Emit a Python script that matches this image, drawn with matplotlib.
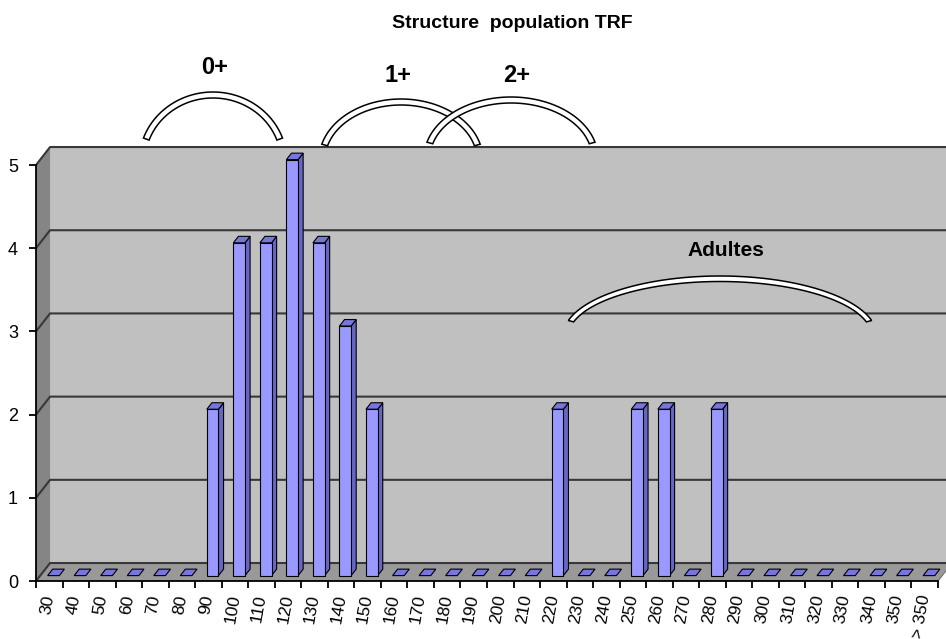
import numpy as np
import matplotlib.pyplot as plt
from matplotlib.patches import Polygon

plt.rcParams['font.family'] = ['Liberation Sans', 'DejaVu Sans']

# classes de taille (mm) et effectifs
categories = [str(v) for v in range(30, 360, 10)] + ['> 350']
counts = [0, 0, 0, 0, 0, 0, 2, 4, 4, 5, 4, 3, 2, 0, 0, 0, 0, 0, 0, 2,
          0, 0, 2, 2, 0, 2, 0, 0, 0, 0, 0, 0, 0, 0]
yticks = [0, 1, 2, 3, 4, 5]

title = 'Structure  population TRF'
age_labels = ['0+', '1+', '2+', 'Adultes']

n = len(categories)
# profondeur de la perspective (unites donnees)
dx, dy = 0.53, 0.216
f0, fd = 0.30, 0.36      # position / profondeur des barres
w = 0.44

fig = plt.figure(figsize=(9.46, 6.39), dpi=100)
ax = fig.add_axes([36 / 946, 58 / 639, 910 / 946, 441 / 639])
ax.set_xlim(0, 910 / 26.53)
ax.set_ylim(0, 441 / 83.2)

xmax = 40
# mur du fond, mur gauche, sol
ax.add_patch(Polygon([(dx, dy), (xmax, dy), (xmax, 5 + dy), (dx, 5 + dy)],
                     facecolor='#c0c0c0', edgecolor='none', zorder=0))
ax.add_patch(Polygon([(0, 0), (dx, dy), (dx, 5 + dy), (0, 5)],
                     facecolor='#858585', edgecolor='none', zorder=0))
ax.add_patch(Polygon([(0, 0), (n, 0), (n + dx, dy), (dx, dy)],
                     facecolor='#999999', edgecolor='#707070', lw=0.8, zorder=0))

for v in yticks:
    ax.plot([0, dx, xmax], [v, v + dy, v + dy], color='#383838', lw=1.5, zorder=1)

# barres 3D
for i, v in enumerate(counts):
    x0 = i + 0.5 - w / 2 + f0 * dx
    y0 = f0 * dy
    ddx, ddy = fd * dx, fd * dy
    if v > 0:
        ax.add_patch(Polygon([(x0 + w, y0), (x0 + w + ddx, y0 + ddy),
                              (x0 + w + ddx, y0 + v + ddy), (x0 + w, y0 + v)],
                             facecolor='#6666c8', edgecolor='black', lw=0.8, zorder=3))
        ax.bar(x0, v, width=w, bottom=y0, align='edge', color='#9999ff',
               edgecolor='black', linewidth=0.8, zorder=3)
    ax.add_patch(Polygon([(x0, y0 + v), (x0 + w, y0 + v),
                          (x0 + w + ddx, y0 + v + ddy), (x0 + ddx, y0 + v + ddy)],
                         facecolor='#7676dc', edgecolor='black', lw=0.8, zorder=4))

# axes
for s in ['top', 'right']:
    ax.spines[s].set_visible(False)
ax.spines['left'].set_bounds(0, 5)
ax.spines['bottom'].set_bounds(0, n)
ax.spines['left'].set_linewidth(1.3)
ax.spines['bottom'].set_linewidth(1.3)
ax.set_yticks(yticks)
ax.tick_params(axis='y', length=5, width=1.3, pad=8, labelsize=13)
ax.set_xticks(np.arange(n + 1))
ax.set_xticklabels([])
ax.tick_params(axis='x', which='major', length=5, width=1.3)
ax.set_xticks(np.arange(n) + 0.5, minor=True)
ax.set_xticklabels(categories, minor=True, rotation=80, rotation_mode='anchor',
                   ha='right', va='center', fontsize=12.5)
ax.tick_params(axis='x', which='minor', length=0, pad=10)

# calque d'annotations en pixels
ov = fig.add_axes([0, 0, 1, 1], facecolor='none')
ov.set_xlim(0, 946)
ov.set_ylim(639, 0)
ov.axis('off')

ov.text(512, 24, title, ha='center', va='center', fontsize=14, fontweight='bold')


def block_arc(cx, cy, a, b, t0, th, z):
    t = np.radians(np.linspace(t0, 180 - t0, 80))
    outer = np.c_[cx + a * np.cos(t), cy - b * np.sin(t)]
    inner = np.c_[cx + (a - th) * np.cos(t[::-1]), cy - (b - th) * np.sin(t[::-1])]
    ov.add_patch(Polygon(np.vstack([outer, inner]), closed=True, facecolor='white',
                         edgecolor='black', lw=1.1, zorder=z))


block_arc(213, 162, 74, 70, 20, 6, 5)
block_arc(401, 160, 82, 61, 15, 6, 5)
block_arc(511, 158, 87, 61, 15, 6, 6)
block_arc(720, 336, 157, 60, 15, 5.5, 5)

ov.text(215, 67, age_labels[0], ha='center', va='center', fontsize=17, fontweight='bold')
ov.text(398, 75, age_labels[1], ha='center', va='center', fontsize=17, fontweight='bold')
ov.text(517, 75, age_labels[2], ha='center', va='center', fontsize=17, fontweight='bold')
ov.text(726, 250, age_labels[3], ha='center', va='center', fontsize=15, fontweight='bold')

fig.savefig('out.png', dpi=100)
